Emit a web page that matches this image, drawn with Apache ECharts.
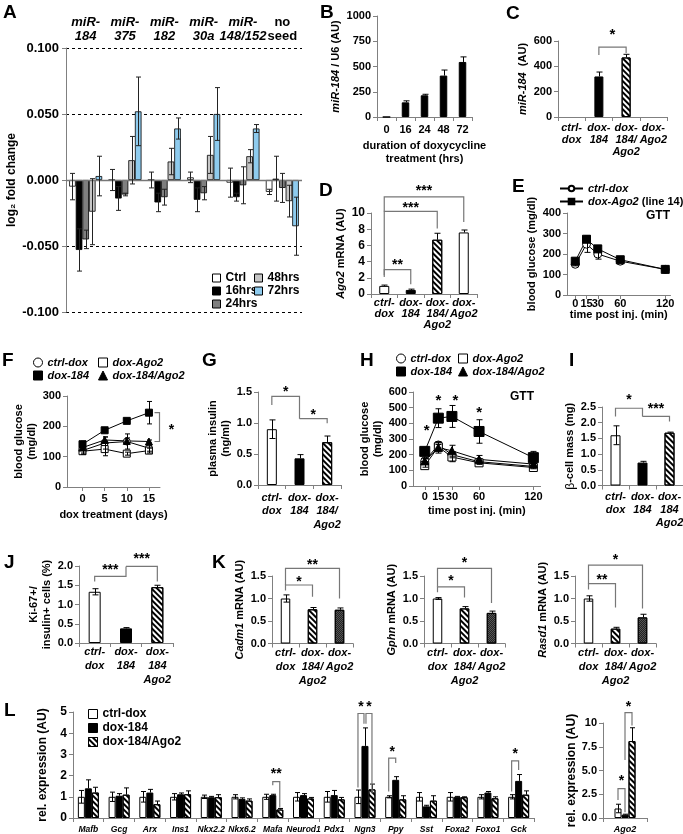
<!DOCTYPE html>
<html><head><meta charset="utf-8">
<script src="https://cdn.jsdelivr.net/npm/echarts@6.0.0/dist/echarts.min.js"></script>
<style>html,body{margin:0;padding:0;background:#fff;}#chart{width:683px;height:834px;}</style>
</head><body><div id="chart"></div>
<script>
// ================= DATA =================
// A
const aCategories = ['miR-\n184','miR-\n375','miR-\n182','miR-\n30a','miR-\n148/152','no\nseed'];
const aNames = ['Ctrl','16hrs','24hrs','48hrs','72hrs'];
const aCtrl    = [-0.005, 0.000, 0.000, 0.002, -0.002, -0.009];
const aCtrlErr = [0.010, 0.008, 0.006, 0.004, 0.011, 0.002];
const a16h     = [-0.053, -0.014, -0.017, -0.015, -0.013, 0.001];
const a16hErr  = [0.016, 0.009, 0.007, 0.009, 0.003, 0.017];
const a24h     = [-0.045, -0.011, -0.013, -0.010, -0.004, -0.006];
const a24hErr  = [0.007, 0.001, 0.006, 0.005, 0.014, 0.011];
const a48h     = [-0.024, 0.015, 0.014, 0.019, 0.018, -0.016];
const a48hErr  = [0.025, 0.018, 0.010, 0.014, 0.005, 0.012];
const a72h     = [0.003, 0.052, 0.039, 0.050, 0.039, -0.035];
const a72hErr  = [0.015, 0.026, 0.008, 0.020, 0.003, 0.022];
// B
const bCategories = ['0','16','24','48','72'];
const bValues = [0, 145, 215, 410, 545];
const bErrors = [0, 15, 10, 55, 50];
// C
const cCategories = ['ctrl-\ndox','dox-\n184','dox-\n184/\nAgo2','dox-\nAgo2'];
const cValues = [null, 320, 470, null];
const cErrors = [0, 35, 25, 0];
// D
const dCategories = ['ctrl-\ndox','dox-\n184','dox-\n184/\nAgo2','dox-\nAgo2'];
const dValues = [1.0, 0.5, 6.7, 7.6];
const dErrors = [0.1, 0.1, 0.8, 0.3];
// E
const eTimes = [0, 15, 30, 60, 120];
const eCtrl = [150, 248, 200, 165, 125];
const eCtrlErr = [8, 40, 25, 8, 5];
const eAgo2 = [165, 272, 225, 172, 125];
const eAgo2Err = [8, 15, 15, 8, 5];
// F
const fDays = [0, 5, 10, 15];
const fCtrl = [120, 145, 150, 128];      const fCtrlErr = [8, 20, 25, 10];
const fAgo2 = [118, 125, 110, 120];      const fAgo2Err = [10, 22, 5, 8];
const f184 = [141, 187, 218, 245];       const f184Err = [10, 5, 5, 37];
const f184Ago2 = [130, 155, 152, 150];   const f184Ago2Err = [8, 10, 10, 5];
// G
const gCategories = ['ctrl-\ndox','dox-\n184','dox-\n184/\nAgo2'];
const gValues = [0.9, 0.43, 0.69];
const gErrors = [0.15, 0.06, 0.1];
// H
const hTimes = [0, 15, 30, 60, 120];
const hCtrl = [160, 262, 200, 155, 125];      const hCtrlErr = [15, 20, 20, 10, 8];
const hAgo2 = [130, 250, 185, 148, 118];      const hAgo2Err = [10, 15, 30, 10, 8];
const h184 = [221, 433, 444, 348, 181];       const h184Err = [15, 60, 70, 75, 40];
const h184Ago2 = [160, 245, 225, 170, 140];   const h184Ago2Err = [15, 35, 35, 25, 10];
// I
const iCategories = ['ctrl-\ndox','dox-\n184','dox-\n184\nAgo2'];
const iValues = [1.6, 0.73, 1.68];
const iErrors = [0.3, 0.04, 0.02];
// J
const jCategories = ['ctrl-\ndox','dox-\n184','dox-\n184\nAgo2'];
const jValues = [1.33, 0.38, 1.45];
const jErrors = [0.08, 0.02, 0.05];
// K
const kCategories = ['ctrl-\ndox','dox-\n184/\nAgo2','dox-\nAgo2'];
const kCadm1 = [1.0, 0.76, 0.75];  const kCadm1Err = [0.08, 0.04, 0.04];
const kGphn  = [1.0, 0.78, 0.68];  const kGphnErr  = [0.02, 0.04, 0.04];
const kRasd1 = [1.0, 0.33, 0.58];  const kRasd1Err = [0.06, 0.03, 0.07];
// L
const lGenes = ['Mafb','Gcg','Arx','Ins1','Nkx2.2','Nkx6.2','Mafa','Neurod1','Pdx1','Ngn3','Ppy','Sst','Foxa2','Foxo1','Gck'];
const lCtrl    = [1,1,1,1,1,1,1,1,1,1,1,1,1,1,1];
const lCtrlErr = [0.3,0.22,0.25,0.15,0.08,0.1,0.12,0.2,0.25,0.32,0.05,0.2,0.2,0.1,0.1];
const l184     = [1.4,1.05,1.2,1.12,0.98,0.9,1.08,1.08,1.08,3.4,1.8,0.55,1.0,1.2,1.75];
const l184Err  = [0.4,0.1,0.15,0.06,0.04,0.05,0.04,0.07,0.22,0.85,0.15,0.05,0.02,0.05,0.3];
const lAgo2    = [1.2,1.1,0.65,1.12,0.98,0.82,0.4,0.92,0.88,1.35,0.88,0.82,0.98,0.93,1.1];
const lAgo2Err = [0.25,0.32,0.15,0.16,0.12,0.08,0.05,0.05,0.09,0.25,0.17,0.23,0.02,0.07,0.18];
const l2Category = ['Ago2'];
const l2Ctrl = [1.0];  const l2CtrlErr = [0.45];
const l2184 = [0.35];  const l2184Err = [0.05];
const l2Ago2 = [8.1];  const l2Ago2Err = [1.4];
// significance annotations: [x1, x2, barY, leftLegEnd, rightLegEnd, text, textY, (offset1, offset2)]
const cSig = [[1,2,552,490,505,'*',671]];
const dSig = [[0,1,3.0,2.1,1.2,'**',3.95],[0,2,10.2,2.3,8.1,'***',11.0],[0,3,12.0,10.2,8.9,'***',13.1]];
const gSig = [[0,1,1.43,1.29,1.07,'*',1.54],[1,2,1.07,1.07,0.995,'*',1.17]];
const iSig = [[0,1,2.46,2.2,2.2,'*',2.82],[1,2,2.2,2.2,2.04,'***',2.54]];
const jSig = [[0,1,1.73,1.6,1.99,'***',1.96],[1,2,1.99,1.99,1.6,'***',2.25]];
const k1Sig = [[0,1,1.30,1.18,1.04,'*',1.44],[0,2,1.67,1.30,1.0,'**',1.81]];
const k2Sig = [[0,1,1.26,1.14,1.02,'*',1.45],[0,2,1.67,1.26,0.9,'*',1.85]];
const k3Sig = [[0,1,1.33,1.2,0.8,'**',1.48],[0,2,1.74,1.33,0.78,'*',1.92]];
const lSig = [[6,6,1.72,1.55,0.5,'**',2.2,0,7],[9,9,4.93,1.44,4.45,'*',5.35,-7,-1],[9,9,4.93,4.45,1.17,'*',5.35,1,7],[10,10,2.82,1.25,2.6,'*',3.25,-7,0],[14,14,2.69,1.25,2.27,'*',3.15,-7,0]];
const l2Sig = [[0,0,3.1,1.9,0.6,'*',4.15,-7,0],[0,0,11.1,6.1,9.75,'*',12.0,0,7]];
const hStars = [[2,374],[15,560],[34,565],[60,489]];
const fSig = {x:17.2, y1:150, y2:245, text:'*'};

// ================= STYLE HELPERS =================
const FONT = "'Liberation Sans', Arial, sans-serif";
const AX = '#808080';
function T(size, extra){ return Object.assign({fontFamily:FONT, fontWeight:'bold', fontSize:size, color:'#000'}, extra||{}); }
const HATCH = {symbol:'rect', symbolSize:1, dashArrayX:[[1,0]], dashArrayY:[1.5,1.5], rotation:Math.PI/4, color:'#000'};
const DOTS = {symbol:'rect', symbolSize:1, dashArrayX:[[1,1],[0,1,1,0]], dashArrayY:[1,0], color:'#222'};
const WHITE = {color:'#fff', borderColor:'#000', borderWidth:1};
const BLACK = {color:'#000', borderColor:'#000', borderWidth:1};
const HATCHED = {color:'#fff', borderColor:'#000', borderWidth:1, decal:HATCH};
const DOTTED = {color:'#555', borderColor:'#000', borderWidth:1, decal:DOTS};

function yAxisV(gi, min, max, interval, o){
  o = o||{};
  const ax = {type:'value', gridIndex:gi, min, max, interval,
    axisLine:{show:true, onZero:false, lineStyle:{color:AX}},
    axisTick:{show:true, length:4, lineStyle:{color:AX}},
    splitLine:{show:false},
    axisLabel:T(o.fs||11,{margin:o.margin||6, formatter:o.fmt||(v=>String(v))}),
    name:o.name||'', nameLocation:'middle', nameRotate:90, nameGap:o.gap||30,
    nameTextStyle:T(o.nfs||11,{lineHeight:o.nlh||13})};
  if (o.rich) ax.nameTextStyle.rich = o.rich;
  return ax;
}
function xAxisC(gi, data, o){
  o = o||{};
  return {type:'category', gridIndex:gi, data,
    axisLine:{show:true, onZero:false, lineStyle:{color:AX}},
    axisTick:{show:true, length:4, lineStyle:{color:AX}},
    splitLine:{show:false},
    axisLabel:T(o.fs||11,{margin:o.margin||5, interval:0, lineHeight:o.lh||12, fontStyle:o.italic?'italic':'normal'}),
    name:o.name||'', nameLocation:'middle', nameGap:o.gap||20,
    nameTextStyle:T(o.nfs||11,{lineHeight:13})};
}
function xAxisV(gi, min, max, ticks, o){
  o = o||{};
  return {type:'value', gridIndex:gi, min, max,
    axisLine:{show:true, onZero:false, lineStyle:{color:AX}},
    axisTick:{show:true, length:4, customValues:ticks, lineStyle:{color:AX}},
    splitLine:{show:false},
    axisLabel:T(o.fs||11,{margin:o.margin||5, customValues:ticks}),
    name:o.name||'', nameLocation:'middle', nameGap:o.gap||20,
    nameTextStyle:T(o.nfs||11)};
}
function barS(name, gi, data, style, bw, extra){
  return Object.assign({type:'bar', name, xAxisIndex:gi, yAxisIndex:gi, data, barWidth:bw, barGap:'0%',
    itemStyle:Object.assign({}, style), z:2, silent:true}, extra||{});
}
function itemsOf(vals, styles){ return vals.map((v,i)=> v==null ? '-' : {value:v, itemStyle:styles[i]}); }
function lineS(name, gi, xs, ys, symbol, fill, size){
  return {type:'line', name, xAxisIndex:gi, yAxisIndex:gi, data:xs.map((x,i)=>[x, ys[i]]),
    symbol, symbolSize:size, showSymbol:true, silent:true,
    itemStyle:{color:fill, borderColor:'#000', borderWidth:1}, lineStyle:{color:'#000', width:1}, z:4};
}
function errRows(xs, vals, errs, sym){
  const out = [];
  xs.forEach((x,i)=>{ if (vals[i]==null || !errs[i]) return; out.push([x, sym ? vals[i]-errs[i] : vals[i], vals[i]+errs[i], sym?1:0]); });
  return out;
}
function errS(gi, rows, offset, cap, color){
  return {type:'custom', xAxisIndex:gi, yAxisIndex:gi, clip:false, silent:true, z:5, data:rows,
    renderItem(params, api){
      const x = api.value(0);
      const lo = api.coord([x, api.value(1)]), hi = api.coord([x, api.value(2)]);
      const px = Math.round(lo[0] + offset) + 0.5;
      const st = {stroke:color||'#000', lineWidth:1, fill:null};
      const ch = [{type:'line', shape:{x1:px,y1:lo[1],x2:px,y2:hi[1]}, style:st},
                  {type:'line', shape:{x1:px-cap,y1:hi[1],x2:px+cap,y2:hi[1]}, style:st}];
      if (api.value(3)) ch.push({type:'line', shape:{x1:px-cap,y1:lo[1],x2:px+cap,y2:lo[1]}, style:st});
      return {type:'group', children:ch};
    }};
}
function sigS(gi, specs, fs){
  return {type:'custom', xAxisIndex:gi, yAxisIndex:gi, clip:false, silent:true, z:6,
    data:specs.map(s=>[s[0], s[2]]),
    renderItem(params, api){
      const s = specs[params.dataIndex];
      const pa = api.coord([s[0], s[2]]), pb = api.coord([s[1], s[2]]);
      const x1 = pa[0] + (s[7]||0), x2 = pb[0] + (s[8]||0), yy = pa[1];
      const yb1 = api.coord([s[0], s[3]])[1], yb2 = api.coord([s[1], s[4]])[1];
      const ty = api.coord([s[0], s[6]])[1];
      return {type:'group', children:[
        {type:'polyline', shape:{points:[[x1,yb1],[x1,yy],[x2,yy],[x2,yb2]]}, style:{stroke:'#777', lineWidth:1.2, fill:null}},
        {type:'text', style:{text:s[5], x:(x1+x2)/2, y:ty+3, textAlign:'center', textVerticalAlign:'middle', font:'bold '+(fs||14)+'px '+FONT, fill:'#000'}}
      ]};
    }};
}

// ================= LAYOUT =================
const grids = [
  {left:66, top:48, width:236, height:264},     // 0 A
  {left:377, top:16, width:95, height:101},     // 1 B
  {left:558, top:41, width:109, height:76},     // 2 C
  {left:371, top:213, width:106, height:81},    // 3 D
  {left:567, top:213, width:103.5, height:82},  // 4 E
  {left:67, top:396, width:93, height:91},      // 5 F
  {left:258, top:392, width:83, height:93},     // 6 G
  {left:413, top:392, width:127.6, height:94},  // 7 H
  {left:602, top:407, width:81, height:78.5},   // 8 I
  {left:79, top:566, width:94, height:77},      // 9 J
  {left:272, top:576, width:81, height:67.5},   // 10 K1
  {left:424, top:576, width:81, height:67.5},   // 11 K2
  {left:575, top:576, width:81, height:67.5},   // 12 K3
  {left:73, top:712, width:461, height:106},    // 13 L
  {left:603, top:723, width:44, height:95}      // 14 L2
].map(g=>Object.assign({containLabel:false, outerBoundsMode:'none'}, g));

const f1 = v=>v.toFixed(1);
const iRich = {i:T(11,{fontStyle:'italic'})};
const xAxes = [
  {type:'category', gridIndex:0, data:aCategories, position:'top', axisLine:{show:false}, axisTick:{show:false}, splitLine:{show:false},
   axisLabel:{interval:0, margin:5,
     formatter:v=>v.split('\n').map(s=>(v.indexOf('miR')===0?'{i|':'{n|')+s+'}').join('\n'),
     rich:{i:T(13,{fontStyle:'italic', lineHeight:14}), n:T(13,{lineHeight:14})}}},
  xAxisC(1, bCategories, {margin:7, name:'duration of doxycycline\ntreatment (hrs)', gap:22}),
  xAxisC(2, cCategories, {italic:true, margin:5, lh:12}),
  xAxisC(3, dCategories, {italic:true, margin:3, lh:11}),
  xAxisV(4, -11, 127, [0,15,30,60,120], {margin:3, name:'time post inj. (min)', gap:13}),
  xAxisV(5, -3.5, 17.5, [0,5,10,15], {margin:6, name:'dox treatment (days)', gap:22}),
  xAxisC(6, gCategories, {italic:true, margin:6, lh:13.5}),
  xAxisV(7, -13, 128, [0,15,30,60,120], {margin:5, name:'time post inj. (min)', gap:19}),
  xAxisC(8, iCategories, {italic:true, margin:5, lh:13}),
  xAxisC(9, jCategories, {italic:true, margin:2, lh:14}),
  xAxisC(10, kCategories, {italic:true, margin:2, lh:14}),
  xAxisC(11, kCategories, {italic:true, margin:2, lh:14}),
  xAxisC(12, kCategories, {italic:true, margin:2, lh:14}),
  xAxisC(13, lGenes, {italic:true, fs:8.5, margin:6}),
  xAxisC(14, l2Category, {italic:true, fs:9, margin:6})
];
const yAxes = [
  Object.assign(yAxisV(0, -0.1, 0.1, 0.05, {fs:13, margin:7, fmt:v=>v.toFixed(3), name:'log\u2082 fold change', nfs:12, gap:47}),
    {splitLine:{show:true, lineStyle:{color:'#000', type:[3,3], width:1}}}),
  yAxisV(1, 0, 1000, 250, {name:'{i|miR-184} / U6 (AU)', rich:iRich, gap:29}),
  yAxisV(2, 0, 600, 200, {name:'{i|miR-184}  (AU)', rich:iRich, gap:24}),
  yAxisV(3, 0, 10, 2, {fs:12, name:'{i|Ago2} mRNA (AU)', rich:iRich, gap:18}),
  yAxisV(4, 0, 400, 100, {name:'blood glucose (mg/dl)', gap:23}),
  yAxisV(5, 0, 300, 100, {name:'blood glucose\n(mg/dl)', gap:27}),
  yAxisV(6, 0, 1.5, 0.5, {fmt:f1, name:'plasma insulin\n(ng/ml)', gap:22}),
  yAxisV(7, 0, 600, 100, {name:'blood glucose\n(mg/dl)', gap:26}),
  yAxisV(8, 0, 2.5, 0.5, {fmt:f1, name:'{g|\u03b2}-cell mass (mg)', rich:{g:T(12,{fontWeight:'normal'})}, gap:24}),
  yAxisV(9, 0, 2, 0.5, {fmt:f1, name:'Ki-67+/\ninsulin+ cells (%)', gap:24}),
  yAxisV(10, 0, 1.5, 0.5, {fmt:f1, name:'{i|Cadm1} mRNA (AU)', rich:iRich, gap:26}),
  yAxisV(11, 0, 1.5, 0.5, {fmt:f1, name:'{i|Gphn} mRNA (AU)', rich:iRich, gap:26}),
  yAxisV(12, 0, 1.5, 0.5, {fmt:f1, name:'{i|Rasd1} mRNA (AU)', rich:iRich, gap:26}),
  yAxisV(13, 0, 5, 1, {fs:12, name:'rel. expression (AU)', nfs:12, gap:14}),
  yAxisV(14, 0, 10, 2.5, {fmt:v=>v===10?'10':v.toFixed(1), name:'rel. expression (AU)', nfs:12, gap:22})
];

// ================= SERIES =================
const series = [];
// A
const aVals = [aCtrl, a16h, a24h, a48h, a72h];
const aErrs = [aCtrlErr, a16hErr, a24hErr, a48hErr, a72hErr];
const aColors = ['#ffffff', '#000000', '#7f7f7f', '#c6c6c6', '#8ecbee'];
const aBW = 6.6;
const aIdx = aCategories.map((c,i)=>i);
aNames.forEach((n,k)=>{
  const s = barS('A|'+n, 0, aVals[k], {color:aColors[k], borderColor:'#000', borderWidth:0.8}, aBW);
  if (k===0) s.markLine = {silent:true, symbol:'none', label:{show:false}, data:[{yAxis:0}], lineStyle:{color:'#777', type:'solid', width:1.3}, z:3};
  series.push(s);
  series.push(errS(0, errRows(aIdx, aVals[k], aErrs[k], true), (k-2)*aBW, 2.5, '#222'));
});
// B
series.push(barS('B', 1, bValues, BLACK, 7.5));
series.push(errS(1, errRows(bCategories.map((c,i)=>i), bValues, bErrors, false), 0, 3));
// C
series.push(barS('C', 2, itemsOf(cValues, [WHITE, BLACK, HATCHED, WHITE]), WHITE, 9));
series.push(errS(2, errRows([0,1,2,3], cValues, cErrors, false), 0, 3));
series.push(sigS(2, cSig, 15));
// D
series.push(barS('D', 3, itemsOf(dValues, [WHITE, BLACK, HATCHED, WHITE]), WHITE, 10));
series.push(errS(3, errRows([0,1,2,3], dValues, dErrors, false), 0, 3));
series.push(sigS(3, dSig, 14));
// E
series.push(errS(4, errRows(eTimes, eCtrl, eCtrlErr, true), 0, 3));
series.push(errS(4, errRows(eTimes, eAgo2, eAgo2Err, true), 0, 3));
series.push(lineS('E|ctrl-dox', 4, eTimes, eCtrl, 'circle', '#fff', 8));
series.push(lineS('E|dox-Ago2', 4, eTimes, eAgo2, 'rect', '#000', 8));
// F
[[fCtrl,fCtrlErr],[fAgo2,fAgo2Err],[f184,f184Err],[f184Ago2,f184Ago2Err]].forEach(p=>series.push(errS(5, errRows(fDays, p[0], p[1], true), 0, 2.5)));
series.push(lineS('F|ctrl-dox', 5, fDays, fCtrl, 'circle', '#fff', 7));
series.push(lineS('F|dox-Ago2', 5, fDays, fAgo2, 'rect', '#fff', 7));
series.push(lineS('F|dox-184/Ago2', 5, fDays, f184Ago2, 'triangle', '#000', 7));
series.push(lineS('F|dox-184', 5, fDays, f184, 'rect', '#000', 7));
series.push({type:'custom', xAxisIndex:5, yAxisIndex:5, clip:false, silent:true, z:6, data:[[fSig.x, fSig.y1, fSig.y2]],
  renderItem(params, api){
    const a = api.coord([api.value(0), api.value(1)]), b = api.coord([api.value(0), api.value(2)]);
    const x = Math.round(a[0])+0.5, st = {stroke:'#777', lineWidth:1.2, fill:null};
    return {type:'group', children:[
      {type:'polyline', shape:{points:[[x-5,a[1]],[x,a[1]],[x,b[1]],[x-5,b[1]]]}, style:st},
      {type:'text', style:{text:fSig.text, x:x+12, y:(a[1]+b[1])/2+3, textAlign:'center', textVerticalAlign:'middle', font:'bold 14px '+FONT, fill:'#000'}}
    ]};
  }});
// G
series.push(barS('G', 6, itemsOf(gValues, [WHITE, BLACK, HATCHED]), WHITE, 10));
series.push(errS(6, errRows([0], gValues.slice(0,1), gErrors.slice(0,1), true), 0, 3));
series.push(errS(6, errRows([1,2], gValues.slice(1), gErrors.slice(1), false), 0, 3));
series.push(sigS(6, gSig, 14));
// H
[[hCtrl,hCtrlErr],[hAgo2,hAgo2Err],[h184,h184Err],[h184Ago2,h184Ago2Err]].forEach(p=>series.push(errS(7, errRows(hTimes, p[0], p[1], true), 0, 3)));
series.push(lineS('H|ctrl-dox', 7, hTimes, hCtrl, 'circle', '#fff', 8));
series.push(lineS('H|dox-Ago2', 7, hTimes, hAgo2, 'rect', '#fff', 8));
series.push(lineS('H|dox-184/Ago2', 7, hTimes, h184Ago2, 'triangle', '#000', 8));
series.push(lineS('H|dox-184', 7, hTimes, h184, 'rect', '#000', 10));
series.push({type:'custom', xAxisIndex:7, yAxisIndex:7, clip:false, silent:true, z:6, data:hStars,
  renderItem(params, api){
    const p = api.coord([api.value(0), api.value(1)]);
    return {type:'text', style:{text:'*', x:p[0], y:p[1]+3, textAlign:'center', textVerticalAlign:'middle', font:'bold 15px '+FONT, fill:'#000'}};
  }});
// I
series.push(barS('I', 8, itemsOf(iValues, [WHITE, BLACK, HATCHED]), WHITE, 10));
series.push(errS(8, errRows([0], iValues.slice(0,1), iErrors.slice(0,1), true), 0, 3));
series.push(errS(8, errRows([1,2], iValues.slice(1), iErrors.slice(1), false), 0, 3));
series.push(sigS(8, iSig, 14));
// J
series.push(barS('J', 9, itemsOf(jValues, [WHITE, BLACK, HATCHED]), WHITE, 12));
series.push(errS(9, errRows([0], jValues.slice(0,1), jErrors.slice(0,1), true), 0, 3));
series.push(errS(9, errRows([1,2], jValues.slice(1), jErrors.slice(1), false), 0, 3));
series.push(sigS(9, jSig, 14));
// K
[[kCadm1,kCadm1Err,k1Sig],[kGphn,kGphnErr,k2Sig],[kRasd1,kRasd1Err,k3Sig]].forEach((p,k)=>{
  const gi = 10+k;
  series.push(barS('K'+k, gi, itemsOf(p[0], [WHITE, HATCHED, DOTTED]), WHITE, 9.5));
  series.push(errS(gi, errRows([0], p[0].slice(0,1), p[1].slice(0,1), true), 0, 3));
  series.push(errS(gi, errRows([1,2], p[0].slice(1), p[1].slice(1), false), 0, 3));
  series.push(sigS(gi, p[2], 14));
});
// L
const lIdx = lGenes.map((g,i)=>i);
const lBW = 7;
series.push(barS('L|ctrl-dox', 13, lCtrl, WHITE, lBW));
series.push(barS('L|dox-184', 13, l184, BLACK, lBW));
series.push(barS('L|dox-184/Ago2', 13, lAgo2, HATCHED, lBW));
series.push(errS(13, errRows(lIdx, lCtrl, lCtrlErr, true), -lBW, 2.5));
series.push(errS(13, errRows(lIdx, l184, l184Err, false), 0, 2.5));
series.push(errS(13, errRows(lIdx, lAgo2, lAgo2Err, false), lBW, 2.5));
series.push(sigS(13, lSig, 14));
// L2
series.push(barS('L2|ctrl-dox', 14, l2Ctrl, WHITE, lBW));
series.push(barS('L2|dox-184', 14, l2184, BLACK, lBW));
series.push(barS('L2|dox-184/Ago2', 14, l2Ago2, HATCHED, lBW));
series.push(errS(14, errRows([0], l2Ctrl, l2CtrlErr, true), -lBW, 2.5));
series.push(errS(14, errRows([0], l2184, l2184Err, false), 0, 2.5));
series.push(errS(14, errRows([0], l2Ago2, l2Ago2Err, false), lBW, 2.5));
series.push(sigS(14, l2Sig, 14));

// ================= LEGENDS =================
const strip = n=>n.split('|')[1];
const legBase = {orient:'vertical', padding:0, selectedMode:false, formatter:strip, itemStyle:{borderColor:'#000', borderWidth:1}};
const legends = [
  Object.assign({}, legBase, {data:['A|Ctrl','A|16hrs','A|24hrs'], left:212, top:272, icon:'rect', itemWidth:8, itemHeight:8, itemGap:1, textStyle:T(12,{lineHeight:12})}),
  Object.assign({}, legBase, {data:['A|48hrs','A|72hrs'], left:254, top:272, icon:'rect', itemWidth:8, itemHeight:8, itemGap:1, textStyle:T(12,{lineHeight:12})}),
  Object.assign({}, legBase, {data:['E|ctrl-dox','E|dox-Ago2'], left:559, top:183, itemWidth:23, itemHeight:7, itemGap:2, itemStyle:{},
    formatter:n=> n==='E|ctrl-dox' ? '{i|ctrl-dox}' : '{i|dox-Ago2} (line 14)',
    textStyle:T(11,{lineHeight:8, rich:{i:T(11,{fontStyle:'italic', lineHeight:8})}})}),
  Object.assign({}, legBase, {data:[{name:'F|ctrl-dox', icon:'circle'},{name:'F|dox-184', icon:'rect'}], left:33, top:357, itemWidth:9, itemHeight:9, itemGap:2, textStyle:T(11,{fontStyle:'italic', lineHeight:9})}),
  Object.assign({}, legBase, {data:[{name:'F|dox-Ago2', icon:'rect'},{name:'F|dox-184/Ago2', icon:'triangle'}], left:98, top:357, itemWidth:9, itemHeight:9, itemGap:2, textStyle:T(11,{fontStyle:'italic', lineHeight:9})}),
  Object.assign({}, legBase, {data:[{name:'H|ctrl-dox', icon:'circle'},{name:'H|dox-184', icon:'rect'}], left:396, top:353, itemWidth:9, itemHeight:9, itemGap:2, textStyle:T(11,{fontStyle:'italic', lineHeight:9})}),
  Object.assign({}, legBase, {data:[{name:'H|dox-Ago2', icon:'rect'},{name:'H|dox-184/Ago2', icon:'triangle'}], left:458, top:353, itemWidth:9, itemHeight:9, itemGap:2, textStyle:T(11,{fontStyle:'italic', lineHeight:9})}),
  Object.assign({}, legBase, {data:['L|ctrl-dox','L|dox-184','L|dox-184/Ago2'], left:88, top:708, icon:'rect', itemWidth:9, itemHeight:9, itemGap:2, textStyle:T(12,{lineHeight:10})})
];

// ================= TEXT LABELS =================
const letters = [['A',3,3],['B',320,3],['C',506,4],['D',319,181],['E',512,177],['F',2,351],['G',202,351],['H',360,351],['I',569,351],['J',4,553],['K',212,553],['L',4,701]];
const graphics = letters.map(l=>({type:'text', left:l[1], top:l[2], silent:true, style:{text:l[0], font:'bold 19px '+FONT, fill:'#000'}}));
graphics.push({type:'text', left:646, top:210, silent:true, style:{text:'GTT', font:'bold 12px '+FONT, fill:'#000'}});
graphics.push({type:'text', left:510, top:391, silent:true, style:{text:'GTT', font:'bold 12px '+FONT, fill:'#000'}});

const chart = echarts.init(document.getElementById('chart'), null, {renderer:'canvas'});
chart.setOption({
  animation:false, backgroundColor:'#fff', textStyle:{fontFamily:FONT},
  grid:grids, xAxis:xAxes, yAxis:yAxes, series, legend:legends, graphic:{elements:graphics}, tooltip:{show:false}
});
</script></body></html>
